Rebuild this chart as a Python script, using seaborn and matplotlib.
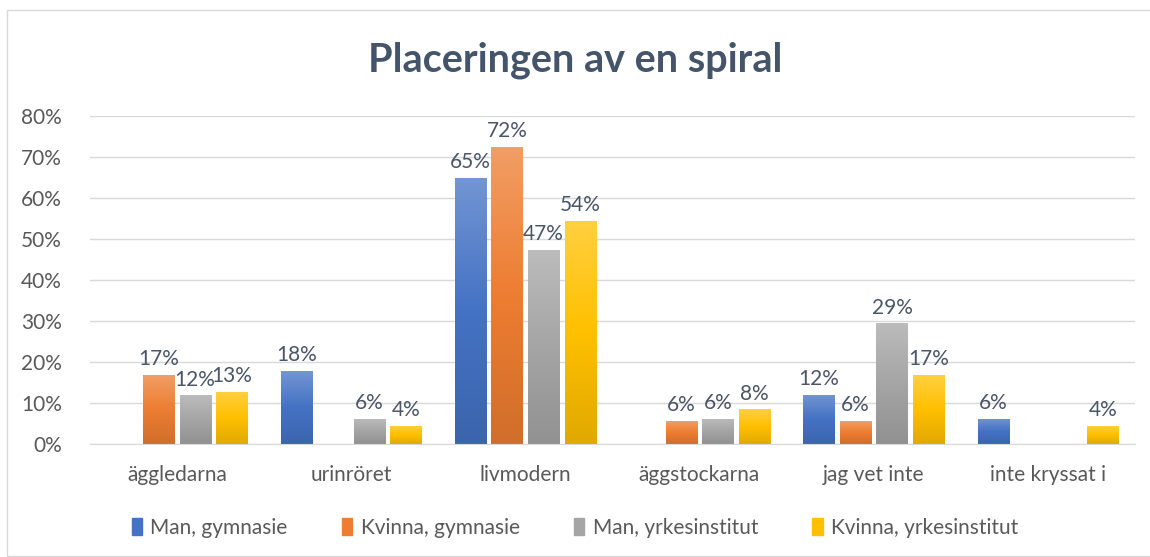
import numpy as np
import pandas as pd
import seaborn as sns
import matplotlib.pyplot as plt
from matplotlib.colors import to_rgb, LinearSegmentedColormap
from matplotlib.patches import Rectangle
from matplotlib.ticker import FuncFormatter

categories = ["äggledarna", "urinröret", "livmodern", "äggstockarna", "jag vet inte", "inte kryssat i"]
groups = ["Man, gymnasie", "Kvinna, gymnasie", "Man, yrkesinstitut", "Kvinna, yrkesinstitut"]
# 0 = no answer in that group (no bar, no label)
man_gymn = [0, 17.8, 64.9, 0, 12.0, 6.1]
kvinna_gymn = [16.8, 0, 72.4, 5.6, 5.6, 0]
man_yrke = [11.9, 6.1, 47.3, 6.1, 29.4, 0]
kvinna_yrke = [12.7, 4.4, 54.4, 8.5, 16.8, 4.4]
colors = ["#4472C4", "#ED7D31", "#A5A5A5", "#FFC000"]

series = [man_gymn, kvinna_gymn, man_yrke, kvinna_yrke]
df = pd.DataFrame({
    "kategori": categories * len(groups),
    "grupp": [g for g in groups for _ in categories],
    "andel": [v for s in series for v in s],
})

sns.set_style("white")
plt.rcParams['font.family'] = ['Lato', 'DejaVu Sans']

fig = plt.figure(figsize=(11.5, 5.57), dpi=100)
ax = fig.add_axes([0.078, 0.203, 0.909, 0.589])

sns.barplot(data=df, x="kategori", y="andel", hue="grupp", hue_order=groups,
            palette=colors, width=0.84, gap=0.15, legend=False, ax=ax)


def gradient_cmap(c):
    r = np.array(to_rgb(c))
    light = r + (1 - r) * 0.25
    dark = r * 0.88
    return LinearSegmentedColormap.from_list("g", [dark, r, light])


grad = np.linspace(0, 1, 256).reshape(-1, 1)
for cont, col in zip(ax.containers, colors):
    cmap = gradient_cmap(col)
    for bar in cont:
        h = bar.get_height()
        bar.set_facecolor("none")
        bar.set_edgecolor("none")
        if h <= 0:
            continue
        x0 = bar.get_x()
        w = bar.get_width()
        im = ax.imshow(grad, cmap=cmap, origin="lower", aspect="auto",
                       extent=[x0, x0 + w, 0, h], zorder=2)
        im.set_clip_path(bar)
    labels = ["" if b.get_height() <= 0 else f"{b.get_height():.0f}%" for b in cont]
    ax.bar_label(cont, labels=labels, padding=4, fontsize=15, color="#4A5568")

ax.set_xlim(-0.5, len(categories) - 0.5)
ax.set_ylim(0, 80)
ax.set_yticks(range(0, 81, 10))
ax.yaxis.set_major_formatter(FuncFormatter(lambda v, p: f"{v:.0f}%"))
ax.grid(axis="y", color="#D9D9D9", linewidth=1)
ax.set_axisbelow(True)
for s in ["top", "right", "left"]:
    ax.spines[s].set_visible(False)
ax.spines["bottom"].set_color("#D9D9D9")
ax.tick_params(axis="both", length=0, labelsize=15, labelcolor="#595959")
ax.tick_params(axis="x", pad=15)
ax.tick_params(axis="y", pad=20)
ax.set_xlabel("")
ax.set_ylabel("")

fig.suptitle("Placeringen av en spiral", y=0.925, fontsize=28.5,
             fontweight="bold", color="#44546A")

handles = [Rectangle((0, 0), 1, 1, color=c) for c in colors]
fig.legend(handles, groups, loc="center", bbox_to_anchor=(0.5, 0.052), ncol=4,
           frameon=False, fontsize=15, labelcolor="#595959",
           handlelength=0.5, handleheight=0.9, handletextpad=0.4, columnspacing=2.6)

fig.patches.append(Rectangle((7 / 1150, 1 / 557), 1.1, 546 / 557, transform=fig.transFigure,
                             fill=False, edgecolor="#D9D9D9", linewidth=1))

fig.savefig("out.png", dpi=100)
